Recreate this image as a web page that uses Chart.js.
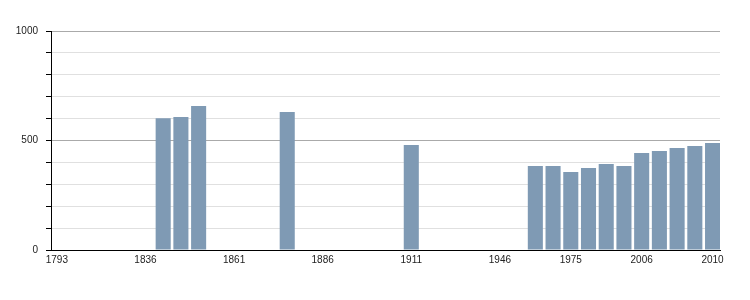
<!DOCTYPE html>
<html>
<head>
<meta charset="utf-8">
<script src="https://cdn.jsdelivr.net/npm/chart.js@4/dist/chart.umd.min.js"></script>
<style>
    html, body { margin: 0; padding: 0; background: #fff; }
    #wrap { width: 750px; height: 300px; }
</style>
</head>
<body>
<div id="wrap"><canvas id="chart"></canvas></div>
<script>
    const years = [
        "1793", "1800", "1806", "1821", "1831", "1836", "1841", "1846", "1851", "1856",
        "1861", "1866", "1872", "1876", "1881", "1886", "1891", "1896", "1901", "1906",
        "1911", "1921", "1926", "1931", "1936", "1946", "1954", "1962", "1968", "1975",
        "1982", "1990", "1999", "2006", "2007", "2008", "2009", "2010"
    ];
    const population = [
        null, null, null, null, null, null, 602, 607, 657, null,
        null, null, null, 630, null, null, null, null, null, null,
        479, null, null, null, null, null, null, 384, 384, 356,
        374, 393, 384, 443, 452, 466, 475, 489
    ];
    const shownYears = ["1793", "1836", "1861", "1886", "1911", "1946", "1975", "2006", "2010"];
    const yLabels = [0, 500, 1000];

    const TEXT = "#222";
    const BAR = "rgb(127, 154, 180)";
    const FONT = { family: "Liberation Sans, Arial, sans-serif", size: 10 };

    // one point per census year that has a value, x = slot index
    const points = [];
    population.forEach((v, i) => { if (v !== null) points.push({ x: i, y: v }); });

    new Chart(document.getElementById("chart"), {
        type: "bar",
        data: {
            datasets: [{
                data: points,
                backgroundColor: BAR,
                borderWidth: 0,
                categoryPercentage: 1,
                barPercentage: 0.85
            }]
        },
        options: {
            responsive: true,
            maintainAspectRatio: false,
            animation: false,
            layout: { padding: { top: 31, right: 30, left: 0, bottom: 0 } },
            plugins: { legend: { display: false }, tooltip: { enabled: false } },
            scales: {
                x: {
                    type: "linear",
                    offset: false,
                    min: -0.33,
                    max: 37.42,
                    grid: { display: true, drawOnChartArea: false, drawTicks: false },
                    border: { color: "#000", width: 1 },
                    afterBuildTicks: scale => {
                        scale.ticks = years.map((y, i) => ({ value: i }));
                    },
                    ticks: {
                        autoSkip: false,
                        maxRotation: 0,
                        padding: 4,
                        color: TEXT,
                        font: FONT,
                        callback: value => {
                            const label = years[value];
                            return shownYears.includes(label) ? label : "";
                        }
                    },
                    afterFit: scale => { scale.height = 50; }
                },
                y: {
                    min: 0,
                    max: 1000,
                    grid: {
                        color: ctx => (ctx.tick && ctx.tick.value % 500 === 0) ? "#aaa" : "#e0e0e0",
                        tickColor: "#000",
                        tickLength: 5
                    },
                    border: { color: "#000", width: 1 },
                    ticks: {
                        stepSize: 100,
                        padding: 8,
                        color: TEXT,
                        font: FONT,
                        callback: value => yLabels.includes(value) ? String(value) : ""
                    },
                    afterFit: scale => { scale.width = 51; }
                }
            }
        }
    });
</script>
</body>
</html>
